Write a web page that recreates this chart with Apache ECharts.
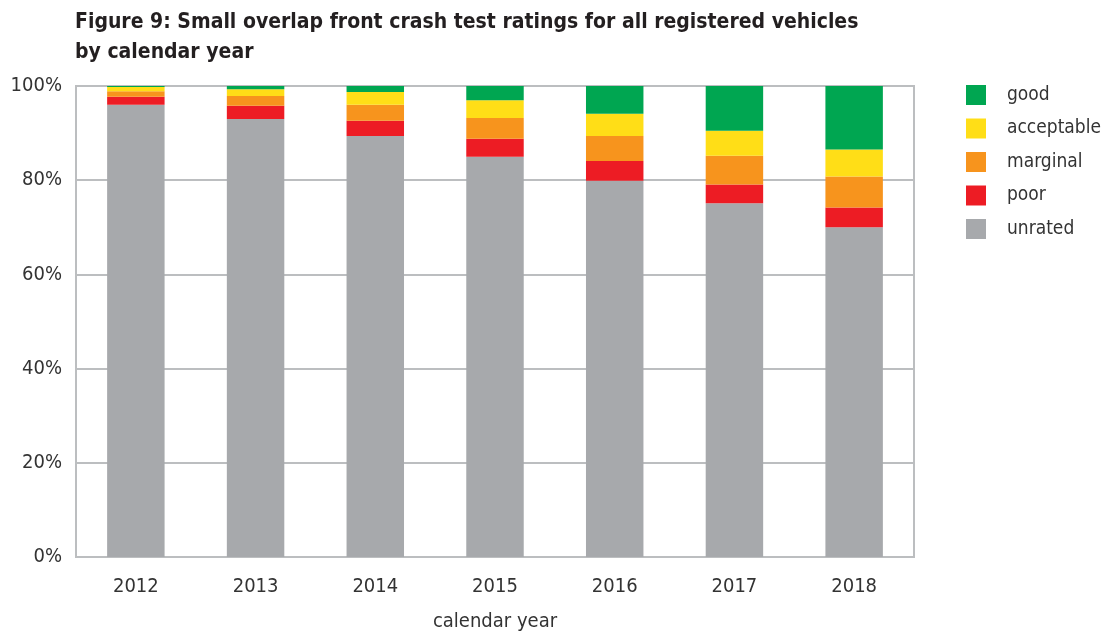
<!DOCTYPE html>
<html>
<head>
<meta charset="utf-8">
<script src="https://cdn.jsdelivr.net/npm/echarts@6/dist/echarts.min.js"></script>
<style>
  html, body { margin: 0; padding: 0; background: #fff; }
  #chart { width: 1109px; height: 637px; }
</style>
</head>
<body>
<div id="chart"></div>
<script>
'use strict'
var years = ['2012', '2013', '2014', '2015', '2016', '2017', '2018']
// percent of registered vehicles
var unrated = [96.0, 93.0, 89.4, 85.0, 79.9, 75.1, 70.0]
var poor = [1.7, 2.8, 3.2, 3.8, 4.2, 4.0, 4.2]
var marginal = [1.2, 2.1, 3.4, 4.4, 5.3, 6.1, 6.6]
var acceptable = [0.9, 1.4, 2.7, 3.8, 4.7, 5.3, 5.7]
var good = [0.2, 0.7, 1.3, 3.0, 5.9, 9.5, 13.5]
var yTicks = [0, 20, 40, 60, 80, 100]

var font = '"DejaVu Sans Condensed", "Liberation Sans", sans-serif'

var chart = echarts.init(document.getElementById('chart'))

function bar(name, data, color) {
  return {
    name: name,
    type: 'bar',
    stack: 'all',
    data: data,
    barWidth: '48%',
    itemStyle: { color: color },
    emphasis: { disabled: true }
  }
}

var option = {
  animation: false,
  textStyle: { fontFamily: font },
  title: {
    text: 'Figure 9: Small overlap front crash test ratings for all registered vehicles\nby calendar year',
    left: 70,
    top: 3,
    textStyle: {
      fontFamily: font,
      fontWeight: 'bold',
      fontSize: 21,
      lineHeight: 30,
      color: '#231f20'
    }
  },
  legend: {
    orient: 'vertical',
    left: 961,
    top: 80,
    itemWidth: 20,
    itemHeight: 20,
    itemGap: 13.5,
    icon: 'rect',
    data: ['good', 'acceptable', 'marginal', 'poor', 'unrated'],
    textStyle: { fontFamily: font, fontSize: 19, color: '#333', padding: [0, 0, 0, 16] }
  },
  grid: {
    left: 76,
    right: 195,
    top: 86,
    bottom: 78,
    show: true,
    borderColor: '#bcbec0',
    borderWidth: 2
  },
  xAxis: {
    type: 'category',
    data: years,
    name: 'calendar year',
    nameLocation: 'middle',
    nameGap: 55,
    nameTextStyle: { fontFamily: font, fontSize: 20, color: '#333' },
    axisLine: { show: false },
    axisTick: { show: false },
    axisLabel: { fontFamily: font, fontSize: 20, color: '#333', margin: 20 }
  },
  yAxis: {
    type: 'value',
    min: 0,
    max: 100,
    interval: 20,
    axisLine: { show: false },
    axisTick: { show: false },
    splitLine: { lineStyle: { color: '#bcbec0', width: 2 } },
    axisLabel: {
      fontFamily: font,
      fontSize: 20,
      color: '#333',
      margin: 14,
      formatter: function (v) {
        return yTicks.indexOf(v) >= 0 ? v + '%' : ''
      }
    }
  },
  series: [
    bar('unrated', unrated, '#a7a9ac'),
    bar('poor', poor, '#ed1c24'),
    bar('marginal', marginal, '#f7941d'),
    bar('acceptable', acceptable, '#ffde17'),
    bar('good', good, '#00a651')
  ]
}

chart.setOption(option)
</script>
</body>
</html>
